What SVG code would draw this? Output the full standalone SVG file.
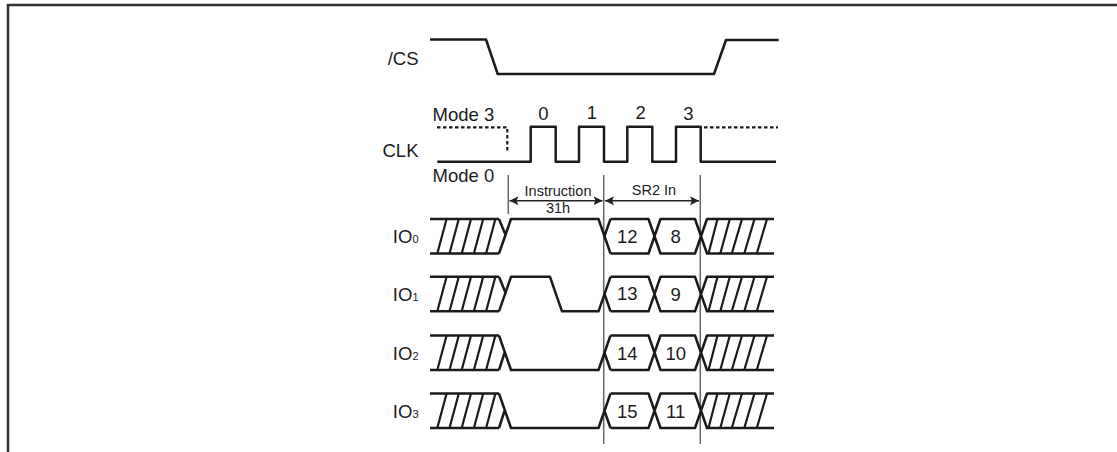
<svg xmlns="http://www.w3.org/2000/svg" xmlns:xlink="http://www.w3.org/1999/xlink" width="1117" height="452" viewBox="0 0 1117 452">
<style>
text{font-family:"Liberation Sans",Arial,sans-serif;fill:#1c1c1c}
.l{font-size:18.500px}
.s{font-size:14.500px}
.c{text-anchor:middle}
.e{text-anchor:end}
.sub{font-size:11px}
.w{fill:none;stroke:#1a1a1a;stroke-width:2.5;stroke-linejoin:round}
.h{fill:none;stroke:#1a1a1a;stroke-width:2.200}
.d{fill:none;stroke:#1a1a1a;stroke-width:2.200;stroke-dasharray:3.500 2.500}
.g{fill:none;stroke:#666;stroke-width:1.500}
.a{fill:none;stroke:#222;stroke-width:1.400;marker-start:url(#as);marker-end:url(#ae)}
.b{fill:none;stroke:#333;stroke-width:2.600}
</style>
<defs>
<marker id="ae" markerUnits="userSpaceOnUse" markerWidth="10" markerHeight="10" refX="9" refY="5" orient="auto"><path d="M0 0.500L9 5L0 9.500L2 5Z" fill="#222"/></marker>
<marker id="as" markerUnits="userSpaceOnUse" markerWidth="10" markerHeight="10" refX="1" refY="5" orient="auto"><path d="M10 0.500L1 5L10 9.500L8 5Z" fill="#222"/></marker>
<g id="common">
<path class="w" d="M430 0H499M430 34.500H499"/>
<path class="h" d="M437.300 34.500L446.600 0M449.500 34.500L458.800 0M461.700 34.500L471 0M473.900 34.500L483.200 0M486.100 34.500L495.400 0"/>
<path class="w" d="M610.500 0H648.500L660.500 34.500H695L707 0H774M610.500 34.500H648.500L660.500 0H695L707 34.500H774"/>
<path class="h" d="M708.500 34.500L717.500 0M720.300 34.500L729.800 0M731.800 34.500L742 0M744.300 34.500L754.500 0M756.800 34.500L767 0"/>
</g>
</defs>
<path id="frame" class="b" d="M8 452V5H1117"/>
<g id="connectors">
<path class="g" d="M508.300 175V214M603.700 175V444M700.300 175V444"/>
<path class="a" d="M509.500 200.700H602.500"/>
<path class="a" d="M605 200.700H699"/>
</g>
<g id="cs"><text class="l e" x="418.500" y="64.500">/CS</text>
<path class="w" d="M430 39.500H486L497.700 74H714L726 40H778.700"/></g>
<g id="clk"><text class="l e" x="418.500" y="156.500">CLK</text>
<text class="l" x="432.500" y="120.500">Mode 3</text>
<text class="l" x="432.500" y="181.500">Mode 0</text>
<text class="l c" x="543.300" y="119.500">0</text>
<text class="l c" x="592" y="119">1</text>
<text class="l c" x="640.700" y="118.500">2</text>
<text class="l c" x="688.300" y="119.500">3</text>
<path class="d" d="M437 127.300H507.300V153M704 127.300H778"/>
<path class="w" d="M437.300 161.700H530.700V126.700H555.700V161.700H579V126.700H604V161.700H627.300V126.700H652.300V161.700H676V126.700H700.700V161.700H776"/></g>
<g id="labels"><text class="s c" x="558" y="195.500">Instruction</text>
<text class="s c" x="558" y="212.700">31h</text>
<text class="s c" x="654" y="195">SR2 In</text></g>
<g id="io0"><text class="l e" x="418.500" y="242.500">IO<tspan class="sub">0</tspan></text>
<use xlink:href="#common" href="#common" y="219"/>
<path class="w" d="M499 219L506 236M499 253.500L511 219H598.500L610.500 253.500M604.500 236L610.500 219"/>
<text class="l c" x="627.300" y="243">12</text><text class="l c" x="675.700" y="243">8</text></g>
<g id="io1"><text class="l e" x="418.500" y="300.500">IO<tspan class="sub">1</tspan></text>
<use xlink:href="#common" href="#common" y="276.800"/>
<path class="w" d="M499 276.800L506 294M499 311.300L511 276.800H550L562 311.300H598.500L610.500 276.800M604.500 294L610.500 311.300"/>
<text class="l c" x="627.300" y="299.500">13</text><text class="l c" x="675.700" y="300.500">9</text></g>
<g id="io2"><text class="l e" x="418.500" y="359.500">IO<tspan class="sub">2</tspan></text>
<use xlink:href="#common" href="#common" y="335.500"/>
<path class="w" d="M499 335.500L511 370H598.500L610.500 335.500M499 370L504.500 353M604.500 353L610.500 370"/>
<text class="l c" x="627.300" y="360">14</text><text class="l c" x="675.700" y="360">10</text></g>
<g id="io3"><text class="l e" x="418.500" y="417.500">IO<tspan class="sub">3</tspan></text>
<use xlink:href="#common" href="#common" y="393.500"/>
<path class="w" d="M499 393.500L511 428H598.500L610.500 393.500M499 428L504.500 411M604.500 411L610.500 428"/>
<text class="l c" x="627.300" y="417.500">15</text><text class="l c" x="675.700" y="417.500">11</text></g>
</svg>
